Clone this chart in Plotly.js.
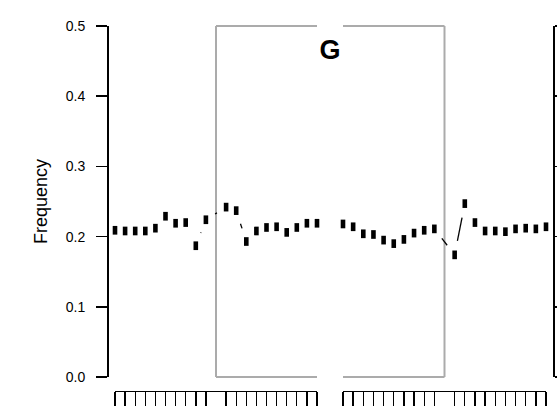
<!DOCTYPE html>
<html>
<head>
<meta charset="utf-8">
<script src="https://cdn.plot.ly/plotly-3.0.1.min.js"></script>
<style>
  html, body { margin: 0; padding: 0; background: #ffffff; }
  #chart { width: 557px; height: 406px; }
</style>
</head>
<body>
<div id="chart"></div>
<script>
// Positions relative to the G site (no position 0)
const positions = [-10, -9, -8, -7, -6, -5, -4, -3, -2, -1, 1, 2, 3, 4, 5, 6, 7, 8, 9, 10];

// Frequency per position, upstream panel and downstream panel
const leftFreq  = [0.209, 0.208, 0.208, 0.208, 0.212, 0.229, 0.219, 0.220, 0.187, 0.224,
                   0.242, 0.237, 0.193, 0.208, 0.213, 0.214, 0.206, 0.213, 0.219, 0.219];
const rightFreq = [0.218, 0.214, 0.204, 0.203, 0.195, 0.190, 0.196, 0.205, 0.209, 0.211,
                   0.174, 0.247, 0.220, 0.208, 0.208, 0.207, 0.211, 0.212, 0.211, 0.214];

// Value at the G site itself, drawn between the two panels
const centrePos  = [11];
const centreFreq = [0.215];

const yTickVals = [0, 0.1, 0.2, 0.3, 0.4, 0.5];
const yTickText = ['0.0', '0.1', '0.2', '0.3', '0.4', '0.5'];
const titleText = 'G';
const yTitle = 'Frequency';

// Geometry of the figure (pixels)
const W = 557, H = 406;
const M = { l: 107, r: 4, t: 26, b: 15 };
const plotW = W - M.l - M.r;             // 446
const plotH = H - M.t - M.b;             // 365
const yBottomPx = 377;                   // where 0.0 sits
const yDomain = [(H - M.b - yBottomPx) / plotH, 1];
const leftDom  = [(115 - M.l) / plotW, (317 - M.l) / plotW];
const rightDom = [(343 - M.l) / plotW, (546 - M.l) / plotW];
const xRange = [-10, 10];
const yRange = [0, 0.5];

const pxPerY = (yDomain[1] - yDomain[0]) * plotH / (yRange[1] - yRange[0]);
const pxPerXLeft  = (leftDom[1] - leftDom[0]) * plotW / (xRange[1] - xRange[0]);
const pxPerXRight = (rightDom[1] - rightDom[0]) * plotW / (xRange[1] - xRange[0]);

// "b"-style connecting lines: each segment is shortened around the points
function gappedSegments(xs, ys, kx, ky) {
  const rx = 10, ry = 14.5;
  const gx = [], gy = [];
  for (let i = 0; i + 1 < xs.length; i++) {
    const dx = (xs[i + 1] - xs[i]) * kx;
    const dy = (ys[i + 1] - ys[i]) * ky;
    const t = 1 / Math.sqrt((dx / rx) ** 2 + (dy / ry) ** 2);
    if (t < 0.5) {
      gx.push(xs[i] + t * (xs[i + 1] - xs[i]), xs[i + 1] - t * (xs[i + 1] - xs[i]), null);
      gy.push(ys[i] + t * (ys[i + 1] - ys[i]), ys[i + 1] - t * (ys[i + 1] - ys[i]), null);
    }
  }
  return { x: gx, y: gy };
}

const segL = gappedSegments(positions, leftFreq, pxPerXLeft, pxPerY);
const segR = gappedSegments(positions, rightFreq, pxPerXRight, pxPerY);

function pointMarker() {
  return { symbol: 'line-ns', size: 6.2, color: '#000000',
           line: { color: '#000000', width: 4.6 } };
}

const traces = [
  { x: segL.x, y: segL.y, xaxis: 'x', yaxis: 'y', mode: 'lines',
    line: { color: '#000000', width: 1.3 }, hoverinfo: 'skip', showlegend: false, connectgaps: false },
  { x: positions, y: leftFreq, xaxis: 'x', yaxis: 'y', mode: 'markers',
    marker: pointMarker(), showlegend: false, cliponaxis: false },
  { x: centrePos, y: centreFreq, xaxis: 'x', yaxis: 'y', mode: 'markers',
    marker: { symbol: 'line-ns', size: 3.6, color: '#000000', line: { color: '#000000', width: 1 } },
    showlegend: false, cliponaxis: false },
  { x: segR.x, y: segR.y, xaxis: 'x2', yaxis: 'y2', mode: 'lines',
    line: { color: '#000000', width: 1.3 }, hoverinfo: 'skip', showlegend: false, connectgaps: false },
  { x: positions, y: rightFreq, xaxis: 'x2', yaxis: 'y2', mode: 'markers',
    marker: pointMarker(), showlegend: false, cliponaxis: false }
];

// Grey frame around the central region, split across the two panels
const boxGrey = '#ababab';
const boxW = 2;
function seg(xref, x0, y0, x1, y1) {
  return { type: 'line', xref: xref, yref: 'y domain', x0: x0, y0: y0, x1: x1, y1: y1,
           line: { color: boxGrey, width: boxW }, layer: 'below' };
}
const shapes = [
  seg('x', 0, 1, 10, 1), seg('x', 0, 0, 0, 1), seg('x', 0, 0, 10, 0),
  seg('x2', -10, 1, 0, 1), seg('x2', 0, 0, 0, 1), seg('x2', -10, 0, 0, 0)
];

function xTick(dom) {
  return {
    domain: dom, range: xRange, anchor: 'free', position: 0,
    showline: true, linecolor: '#000000', linewidth: 1.3,
    ticks: 'outside', ticklen: 16, tickwidth: 1.4, tickcolor: '#000000',
    tickmode: 'array', tickvals: positions, showticklabels: false,
    showgrid: false, zeroline: false, fixedrange: true
  };
}

const FAMILY = 'Liberation Sans, Arial, sans-serif';

const layout = {
  width: W, height: H,
  margin: { l: M.l, r: M.r, t: M.t, b: M.b, pad: 0 },
  paper_bgcolor: '#ffffff', plot_bgcolor: '#ffffff',
  font: { family: FAMILY, size: 14, color: '#000000' },
  showlegend: false,
  title: {
    text: '<b>' + titleText + '</b>',
    x: 0.5, xref: 'paper', xanchor: 'center',
    y: 1 - (50 - M.t) / plotH, yref: 'paper', yanchor: 'middle',
    font: { family: 'Liberation Sans Narrow, Arial Narrow, Liberation Sans, sans-serif', size: 27, color: '#000000' }
  },
  xaxis:  xTick(leftDom),
  xaxis2: xTick(rightDom),
  yaxis: {
    domain: yDomain, range: yRange, anchor: 'free', position: 0, side: 'left',
    showline: true, linecolor: '#000000', linewidth: 1.8,
    ticks: 'outside', ticklen: 11, tickwidth: 1.6, tickcolor: '#000000',
    tickmode: 'array', tickvals: yTickVals, ticktext: yTickText,
    tickfont: { family: FAMILY, size: 14, color: '#000000' }, ticklabelstandoff: 8,
    title: { text: yTitle, font: { family: FAMILY, size: 18, color: '#000000' }, standoff: 12 },
    showgrid: false, zeroline: false, fixedrange: true
  },
  yaxis2: {
    overlaying: 'y', range: yRange, anchor: 'free', position: 1, side: 'right',
    showline: true, linecolor: '#000000', linewidth: 1.8,
    ticks: 'outside', ticklen: 11, tickwidth: 1.6, tickcolor: '#000000',
    tickmode: 'array', tickvals: yTickVals, showticklabels: false,
    showgrid: false, zeroline: false, fixedrange: true
  },
  shapes: shapes
};

Plotly.newPlot('chart', traces, layout, { staticPlot: true, displayModeBar: false });
</script>
</body>
</html>
